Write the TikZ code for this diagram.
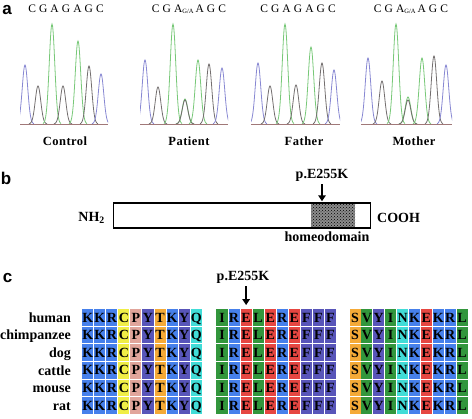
\documentclass[tikz,border=0pt]{standalone}
\usepackage{fontspec}
\setmainfont{Liberation Serif}
\setsansfont{Liberation Sans}
\usetikzlibrary{patterns,arrows.meta}
\definecolor{trB}{RGB}{135,135,210}
\definecolor{trK}{RGB}{115,110,110}
\definecolor{trG}{RGB}{120,200,120}
\definecolor{trBase}{RGB}{160,120,120}
\definecolor{colK}{RGB}{70,128,235}
\definecolor{colR}{RGB}{70,128,235}
\definecolor{colC}{RGB}{240,238,70}
\definecolor{colP}{RGB}{225,165,155}
\definecolor{colY}{RGB}{88,85,185}
\definecolor{colF}{RGB}{88,85,185}
\definecolor{colT}{RGB}{245,170,55}
\definecolor{colS}{RGB}{245,170,55}
\definecolor{colQ}{RGB}{65,220,215}
\definecolor{colN}{RGB}{65,220,215}
\definecolor{colI}{RGB}{50,150,60}
\definecolor{colL}{RGB}{50,150,60}
\definecolor{colV}{RGB}{50,150,60}
\definecolor{colE}{RGB}{230,70,65}
\begin{document}
\begin{tikzpicture}[x=1pt,y=-1pt,
  plab/.style={font=\sffamily\bfseries\fontsize{17}{17}\selectfont, inner sep=0},
  seqtxt/.style={font=\fontsize{11.5}{11.5}\selectfont\addfontfeature{LetterSpace=27}, inner sep=0},
  clab/.style={font=\bfseries\fontsize{12.5}{12.5}\selectfont\addfontfeature{LetterSpace=4}, inner sep=0},
  blab/.style={font=\bfseries\fontsize{14}{14}\selectfont, inner sep=0},
  sp/.style={font=\bfseries\fontsize{14}{14}\selectfont, inner sep=0},
  cell/.style={minimum width=11.1pt, minimum height=16.5pt, inner sep=0, text height=9.2pt, text depth=0pt, font=\bfseries\fontsize{14}{14}\selectfont},
  arr/.style={-{Triangle[length=6pt,width=7.5pt]}, line width=1.8pt},
  trace/.style={line width=0.8pt}
]
\useasboundingbox (0,0) rectangle (472,419);

% ---------- panel a ----------
\node[plab] (la) at (7,10.5) {a};
\node[seqtxt] (s1) at (66,9) {CGAGAGC};
\node[seqtxt] (s2) at (189,9) {CGA\raisebox{-1.5pt}{\fontsize{6.5}{6.5}\selectfont\addfontfeature{LetterSpace=0}G/A}\,AGC};
\node[seqtxt] (s3) at (298,9) {CGAGAGC};
\node[seqtxt] (s4) at (411,9) {CGA\raisebox{-1.5pt}{\fontsize{6.5}{6.5}\selectfont\addfontfeature{LetterSpace=0}G/A}\,AGC};

\begin{scope}
\clip (20,0) rectangle (108,126);
\foreach \c/\h/\cl in {25/59/trB,38/38/trK,52/100/trG,63/38/trK,78/83/trG,89/58/trK,101/50/trB}{
  \pgfmathsetmacro\da{\c-9}\pgfmathsetmacro\db{\c+9}
  \draw[trace,draw=\cl] plot[domain=\da:\db,samples=37,smooth] (\x,{124-\h*exp(-((\x-\c)/3.9)^2)});
}
\end{scope}
\draw[trBase,line width=0.7pt] (20,124) -- (108,124);

\begin{scope}
\clip (140,0) rectangle (228,126);
\foreach \c/\h/\cl in {145/64/trB,158/37/trK,173/100/trG,185/25/trG,185/24/trK,198/64/trG,209/60/trK,222/56/trB}{
  \pgfmathsetmacro\da{\c-9}\pgfmathsetmacro\db{\c+9}
  \draw[trace,draw=\cl] plot[domain=\da:\db,samples=37,smooth] (\x,{124-\h*exp(-((\x-\c)/3.9)^2)});
}
\end{scope}
\draw[trBase,line width=0.7pt] (140,124) -- (228,124);

\begin{scope}
\clip (251,0) rectangle (340,126);
\foreach \c/\h/\cl in {258/61/trB,270/38/trK,285/100/trG,296/39/trK,311/77/trG,322/61/trK,334/54/trB}{
  \pgfmathsetmacro\da{\c-9}\pgfmathsetmacro\db{\c+9}
  \draw[trace,draw=\cl] plot[domain=\da:\db,samples=37,smooth] (\x,{124-\h*exp(-((\x-\c)/3.9)^2)});
}
\end{scope}
\draw[trBase,line width=0.7pt] (251,124) -- (340,124);

\begin{scope}
\clip (361,0) rectangle (452,126);
\foreach \c/\h/\cl in {368/66/trB,382/43/trK,396/100/trG,408/27/trG,408/24/trK,422/66/trG,434/68/trK,446/59/trB}{
  \pgfmathsetmacro\da{\c-9}\pgfmathsetmacro\db{\c+9}
  \draw[trace,draw=\cl] plot[domain=\da:\db,samples=37,smooth] (\x,{124-\h*exp(-((\x-\c)/3.9)^2)});
}
\end{scope}
\draw[trBase,line width=0.7pt] (361,124) -- (452,124);

\node[clab] (c1) at (65,141) {Control};
\node[clab] (c2) at (189,141) {Patient};
\node[clab] (c3) at (304,141) {Father};
\node[clab] (c4) at (414,141) {Mother};

% ---------- panel b ----------
\node[plab] (lb) at (6,178) {b};
\node[draw, fill=white, line width=1.4pt, minimum width=257pt, minimum height=25pt, inner sep=0, anchor=west] (prot) at (113,215.5) {};
\node[fill=black!45, postaction={pattern=crosshatch dots, pattern color=black}, minimum width=44pt, minimum height=23.6pt, inner sep=0, anchor=west] (hd) at (311,215.5) {};
\node[blab, anchor=east] (nh) at (105,217.5) {NH\textsubscript{2}};
\node[blab, anchor=west] (cooh) at (377,217.5) {COOH};
\node[blab] (pb) at (322,175) {p.E255K};
\node[blab] (hdl) at (327,237) {homeodomain};
\draw[arr, shorten >=1pt] ([yshift=-3pt]pb.south) -- (pb.south |- prot.north);

% ---------- panel c ----------
\node[plab] (lc) at (7.5,278.5) {c};
\foreach \sp [count=\r] in {human,chimpanzee,dog,cattle,mouse,rat}{
  \pgfmathsetmacro\yc{317.5+17.6*(\r-1)}
  \node[sp, anchor=base east] (sp\r) at (71,\yc+4.8) {\sp};
  \foreach \l [count=\c] in {K,K,R,C,P,Y,T,K,Y,Q}
    \node[cell, fill=col\l] (bar\r c\c) at ({87.7+12.06*(\c-1)},\yc) {\l};
  \foreach \l [count=\c] in {I,R,E,L,E,R,E,F,F,F}
    \node[cell, fill=col\l] (bbr\r c\c) at ({222+12.05*(\c-1)},\yc) {\l};
  \foreach \l [count=\c] in {S,V,Y,I,N,K,E,K,R,L}
    \node[cell, minimum width=11pt, fill=col\l] (bcr\r c\c) at ({355+11.9*(\c-1)},\yc) {\l};
}
\node[blab] (pc) at (243,277) {p.E255K};
\path (pc.south -| bbr1c3.north) coordinate (ctop);
\draw[arr] ([yshift=-3pt]ctop) -- ([yshift=4pt]bbr1c3.north);
\end{tikzpicture}
\end{document}
